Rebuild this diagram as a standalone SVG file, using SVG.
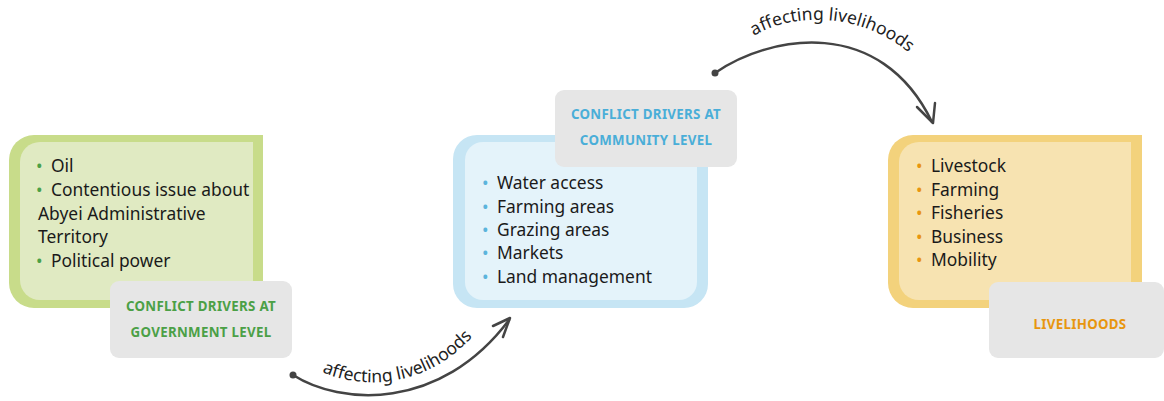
<svg xmlns="http://www.w3.org/2000/svg" width="1164" height="401" viewBox="0 0 1164 401">
<style>
.body{font-family:"Noto Sans","Open Sans",sans-serif;font-size:17.4px;fill:#1a1a1a}
.hdr{font-family:"Noto Sans","Open Sans",sans-serif;font-size:13.3px;font-weight:bold;text-anchor:middle;letter-spacing:0.3px}
.lbl{fill:#e6e6e6}
.conn{fill:none;stroke:#444;stroke-width:2.5;stroke-linecap:round;stroke-linejoin:round}
.ctext{font-family:"Noto Sans","Open Sans",sans-serif;font-size:17.5px;fill:#222}
.bg{fill:#4ba046}.bb{fill:#5bb4dc}.by{fill:#e8960f}
</style>
<rect width="1164" height="401" fill="#ffffff"/>
<g id="node-government">
<path d="M34,135 H263 V308 H34 A25,25 0 0 1 9,283 V160 A25,25 0 0 1 34,135 Z" fill="#c8dc8a"/>
<path d="M40,142 H253 V300 H40 A20,20 0 0 1 20,280 V162 A20,20 0 0 1 40,142 Z" fill="#e0eac2"/>
<text class="body"><tspan class="bg" x="36" y="172">•</tspan><tspan x="51" y="172">Oil</tspan></text>
<text class="body"><tspan class="bg" x="36" y="196">•</tspan><tspan x="51" y="196">Contentious issue about</tspan></text>
<text class="body" x="38" y="220">Abyei Administrative</text>
<text class="body" x="38" y="243">Territory</text>
<text class="body"><tspan class="bg" x="36" y="267">•</tspan><tspan x="51" y="267">Political power</tspan></text>
<rect class="lbl" x="110" y="281" width="182" height="77" rx="9"/>
<text class="hdr" fill="#4ba046" x="201" y="311">CONFLICT DRIVERS AT</text>
<text class="hdr" fill="#4ba046" x="201" y="337">GOVERNMENT LEVEL</text>
</g>
<g id="node-community">
<rect x="453" y="135" width="255" height="173" rx="24" fill="#c6e5f4"/>
<rect x="465" y="142" width="232" height="158" rx="18" fill="#e4f3fa"/>
<text class="body"><tspan class="bb" x="482" y="189">•</tspan><tspan x="497" y="189">Water access</tspan></text>
<text class="body"><tspan class="bb" x="482" y="213">•</tspan><tspan x="497" y="213">Farming areas</tspan></text>
<text class="body"><tspan class="bb" x="482" y="236">•</tspan><tspan x="497" y="236">Grazing areas</tspan></text>
<text class="body"><tspan class="bb" x="482" y="259">•</tspan><tspan x="497" y="259">Markets</tspan></text>
<text class="body"><tspan class="bb" x="482" y="283">•</tspan><tspan x="497" y="283">Land management</tspan></text>
<rect class="lbl" x="555" y="90" width="182" height="77" rx="9"/>
<text class="hdr" fill="#4aaed8" x="646" y="119">CONFLICT DRIVERS AT</text>
<text class="hdr" fill="#4aaed8" x="646" y="145">COMMUNITY LEVEL</text>
</g>
<g id="node-livelihoods">
<path d="M913,135 H1142 V308 H913 A25,25 0 0 1 888,283 V160 A25,25 0 0 1 913,135 Z" fill="#f3d27c"/>
<path d="M919,142 H1131 V300 H919 A20,20 0 0 1 899,280 V162 A20,20 0 0 1 919,142 Z" fill="#f7e3b1"/>
<text class="body"><tspan class="by" x="916" y="172">•</tspan><tspan x="931" y="172">Livestock</tspan></text>
<text class="body"><tspan class="by" x="916" y="196">•</tspan><tspan x="931" y="196">Farming</tspan></text>
<text class="body"><tspan class="by" x="916" y="219">•</tspan><tspan x="931" y="219">Fisheries</tspan></text>
<text class="body"><tspan class="by" x="916" y="243">•</tspan><tspan x="931" y="243">Business</tspan></text>
<text class="body"><tspan class="by" x="916" y="266">•</tspan><tspan x="931" y="266">Mobility</tspan></text>
<rect class="lbl" x="989" y="282" width="175" height="76" rx="9"/>
<text class="hdr" fill="#e8960f" x="1080" y="329">LIVELIHOODS</text>
</g>
<g id="connectors">
<defs>
<path id="tp1" d="M322,372 C372,394 448,384 492,310"/>
<path id="tp2" d="M754,36 C795,10 880,10 930,75"/>
</defs>
<circle cx="293" cy="375" r="3.5" fill="#444"/>
<path class="conn" d="M293,375 C340,405 440,412 509,320"/>
<path class="conn" d="M493,326 L510,318 L503,337"/>
<text class="ctext"><textPath href="#tp1">affecting livelihoods</textPath></text>
<circle cx="715" cy="73" r="3.5" fill="#444"/>
<path class="conn" d="M715,73 C770,35 880,15 932,122"/>
<path class="conn" d="M917,107 L933,123 L935,103"/>
<text class="ctext"><textPath href="#tp2">affecting livelihoods</textPath></text>
</g>
</svg>
